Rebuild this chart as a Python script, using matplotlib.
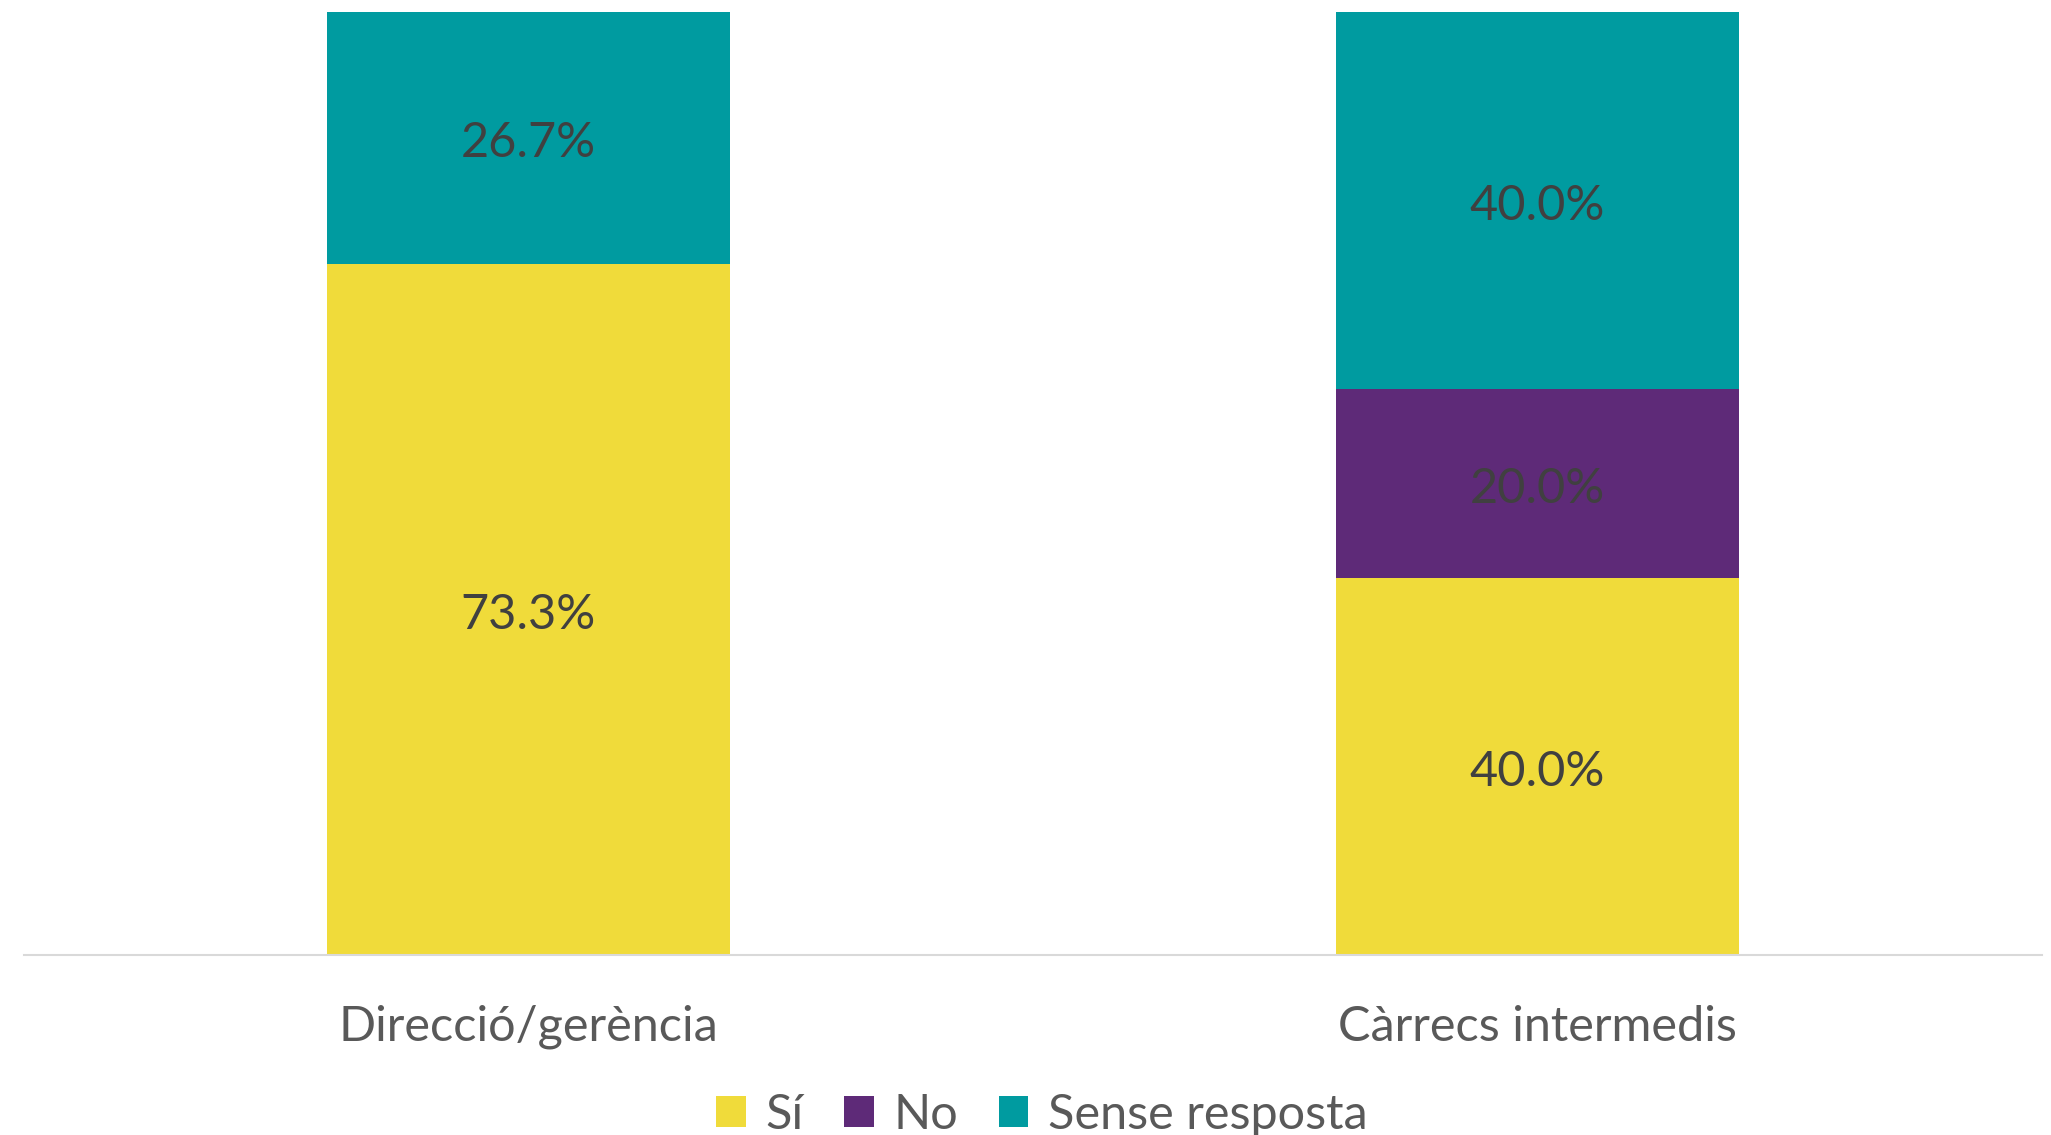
import matplotlib.pyplot as plt
import numpy as np

categories = ["Direcció/gerència", "Càrrecs intermedis"]
series_names = ["Sí", "No", "Sense resposta"]
si = [73.3, 40.0]
no = [0.0, 20.0]
sense = [26.7, 40.0]
colors = ["#F0DB3A", "#5E2A78", "#009BA0"]

plt.rcParams['font.family'] = ['Lato', 'DejaVu Sans']

fig = plt.figure(figsize=(20.51, 11.35), dpi=100)
ax = fig.add_axes([0.0117, 0.1586, 0.9839, 0.8308])

x = np.arange(len(categories))
width = 0.4
bottom = np.zeros(len(categories))
for name, vals, col in zip(series_names, [si, no, sense], colors):
    vals = np.array(vals)
    ax.bar(x, vals, width, bottom=bottom, color=col, label=name)
    for xi, v, b in zip(x, vals, bottom):
        if v > 0:
            # nudge down a bit so labels sit like the original
            ax.annotate(f"{v:.1f}%", (xi, b + v / 2), xytext=(0, -4),
                        textcoords="offset points", ha="center", va="center",
                        fontsize=35, color="#404040")
    bottom += vals

ax.set_xlim(-0.5, 1.5)
ax.set_ylim(0, 100)
ax.set_yticks([])
ax.set_xticks(x)
ax.set_xticklabels(categories, fontsize=35, color="#595959")
ax.tick_params(axis="x", length=0, pad=36)
for s in ["top", "left", "right"]:
    ax.spines[s].set_visible(False)
ax.spines["bottom"].set_color("#D9D9D9")
ax.spines["bottom"].set_linewidth(1.5)

fig.legend(loc="center", bbox_to_anchor=(0.508, 0.018), ncol=3, frameon=False,
           fontsize=35, labelcolor="#595959", handlelength=0.6, handleheight=0.6,
           handletextpad=0.4, columnspacing=0.85)

fig.savefig("out.png", dpi=100)
